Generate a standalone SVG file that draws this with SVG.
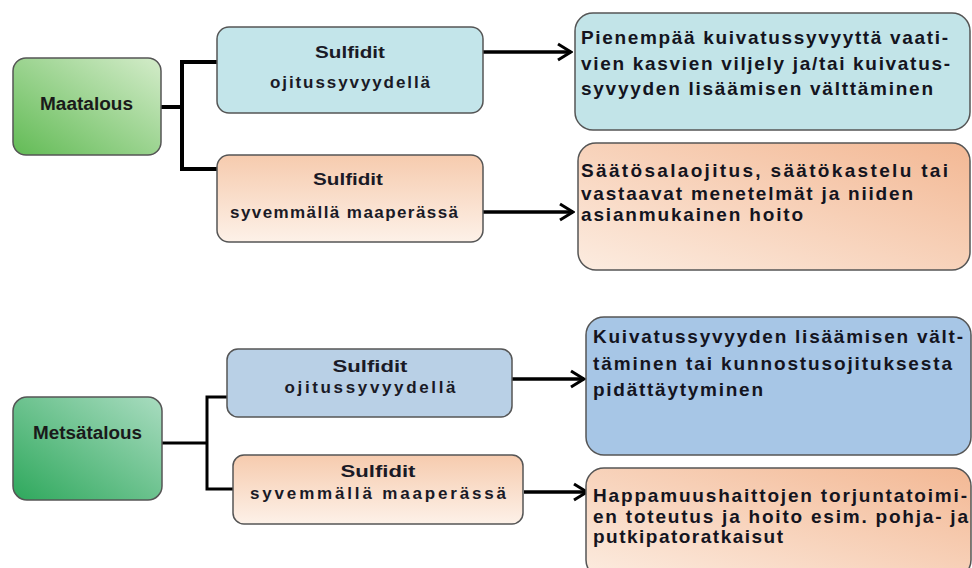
<svg xmlns="http://www.w3.org/2000/svg" width="972" height="568" viewBox="0 0 972 568">
<defs>
<linearGradient id="gMaa" x1="1" y1="0" x2="0" y2="1">
<stop offset="0" stop-color="#d4ecca"/><stop offset="1" stop-color="#62bb55"/>
</linearGradient>
<linearGradient id="gMets" x1="1" y1="0" x2="0" y2="1">
<stop offset="0" stop-color="#a9dcc0"/><stop offset="1" stop-color="#2ea85c"/>
</linearGradient>
<linearGradient id="gPeach" x1="0" y1="0" x2="0" y2="1">
<stop offset="0" stop-color="#f6cbae"/><stop offset="1" stop-color="#fdf1e8"/>
</linearGradient>
<linearGradient id="gPeachR" x1="1" y1="0" x2="0" y2="1">
<stop offset="0" stop-color="#f3b894"/><stop offset="1" stop-color="#fcece0"/>
</linearGradient>
<marker id="arr" viewBox="0 0 16 20" refX="14" refY="10" markerWidth="16" markerHeight="20" markerUnits="userSpaceOnUse" orient="auto">
<path d="M1,2 L14,10 L1,18" fill="none" stroke="#000" stroke-width="3"/>
</marker>
</defs>
<style>
.box{stroke:#555;stroke-width:1.5}
.main{font-family:"Liberation Sans",Arial,sans-serif;font-weight:bold;font-size:18px;fill:#1a1a1a;text-anchor:middle}
.sub{font-family:"Liberation Sans",Arial,sans-serif;font-weight:bold;font-size:17px;fill:#1a1a26;text-anchor:middle}
.res{font-family:"Liberation Sans",Arial,sans-serif;font-weight:bold;font-size:19px;fill:#14141e}
.con{fill:none;stroke:#000;stroke-linejoin:miter}
</style>
<rect width="972" height="568" fill="#fff"/>

<g id="connectors">
<path class="con" stroke-width="4" d="M161,107 H182 M182,62 V169 M180,62 H217 M180,169 H217"/>
<path class="con" stroke-width="3.5" d="M483,52 H571" marker-end="url(#arr)"/>
<path class="con" stroke-width="3.5" d="M483,212 H573" marker-end="url(#arr)"/>
<path class="con" stroke-width="3" d="M162,443 H207 M207,397 V490 M205.5,397 H227 M205.5,489 H233"/>
<path class="con" stroke-width="3.5" d="M512,379 H584" marker-end="url(#arr)"/>
<path class="con" stroke-width="3.5" d="M524,492 H587" marker-end="url(#arr)"/>
</g>

<g id="maatalous">
<rect class="box" x="13" y="58" width="148" height="97" rx="13" fill="url(#gMaa)"/>
<text class="main" x="86.5" y="110" textLength="93" lengthAdjust="spacingAndGlyphs">Maatalous</text>
</g>

<g id="sulfidit-oji-1">
<rect class="box" x="217" y="27" width="266" height="86" rx="12" fill="#c3e5ea"/>
<text class="sub" x="350" y="58" textLength="70" lengthAdjust="spacingAndGlyphs">Sulfidit</text>
<text class="sub" x="350" y="88" textLength="160" lengthAdjust="spacing">ojitussyvyydellä</text>
</g>

<g id="sulfidit-syv-1">
<rect class="box" x="217" y="155" width="266" height="87" rx="12" fill="url(#gPeach)"/>
<text class="sub" x="348" y="185" textLength="70" lengthAdjust="spacingAndGlyphs">Sulfidit</text>
<text class="sub" x="344" y="218" textLength="228" lengthAdjust="spacing">syvemmällä maaperässä</text>
</g>

<g id="tulos-1">
<rect class="box" x="575" y="13" width="395" height="117" rx="18" fill="#c2e4e8"/>
<text class="res" x="581" y="44" textLength="367" lengthAdjust="spacing">Pienempää kuivatussyvyyttä vaati-</text>
<text class="res" x="581" y="70" textLength="369" lengthAdjust="spacing">vien kasvien viljely ja/tai kuivatus-</text>
<text class="res" x="581" y="95" textLength="352" lengthAdjust="spacing">syvyyden lisäämisen välttäminen</text>
</g>

<g id="tulos-2">
<rect class="box" x="578" y="143" width="392" height="127" rx="18" fill="url(#gPeachR)"/>
<text class="res" x="581" y="177" textLength="367" lengthAdjust="spacing">Säätösalaojitus, säätökastelu tai</text>
<text class="res" x="581" y="200" textLength="332" lengthAdjust="spacing">vastaavat menetelmät ja niiden</text>
<text class="res" x="581" y="221" textLength="222" lengthAdjust="spacing">asianmukainen hoito</text>
</g>

<g id="metsatalous">
<rect class="box" x="13" y="397" width="149" height="103" rx="14" fill="url(#gMets)"/>
<text class="main" x="87.5" y="439" textLength="109" lengthAdjust="spacingAndGlyphs">Metsätalous</text>
</g>

<g id="sulfidit-oji-2">
<rect class="box" x="227" y="349" width="285" height="68" rx="11" fill="#b9d0e6"/>
<text class="sub" x="370" y="372" textLength="75" lengthAdjust="spacingAndGlyphs">Sulfidit</text>
<text class="sub" x="370" y="393" textLength="171" lengthAdjust="spacing">ojitussyvyydellä</text>
</g>

<g id="sulfidit-syv-2">
<rect class="box" x="233" y="455" width="290" height="69" rx="11" fill="url(#gPeach)"/>
<text class="sub" x="378" y="477" textLength="75" lengthAdjust="spacingAndGlyphs">Sulfidit</text>
<text class="sub" x="378" y="499" textLength="256" lengthAdjust="spacing">syvemmällä maaperässä</text>
</g>

<g id="tulos-3">
<rect class="box" x="586" y="317" width="385" height="138" rx="18" fill="#a7c6e6"/>
<text class="res" x="593" y="343" textLength="370" lengthAdjust="spacing">Kuivatussyvyyden lisäämisen vält-</text>
<text class="res" x="593" y="370" textLength="359" lengthAdjust="spacing">täminen tai kunnostusojituksesta</text>
<text class="res" x="593" y="396" textLength="170" lengthAdjust="spacing">pidättäytyminen</text>
</g>

<g id="tulos-4">
<rect class="box" x="586" y="468" width="385" height="110" rx="18" fill="url(#gPeachR)"/>
<text class="res" x="593" y="502" textLength="374" lengthAdjust="spacing">Happamuushaittojen torjuntatoimi-</text>
<text class="res" x="593" y="523" textLength="375" lengthAdjust="spacing">en toteutus ja hoito esim. pohja- ja</text>
<text class="res" x="593" y="543" textLength="190" lengthAdjust="spacing">putkipatoratkaisut</text>
</g>
</svg>
